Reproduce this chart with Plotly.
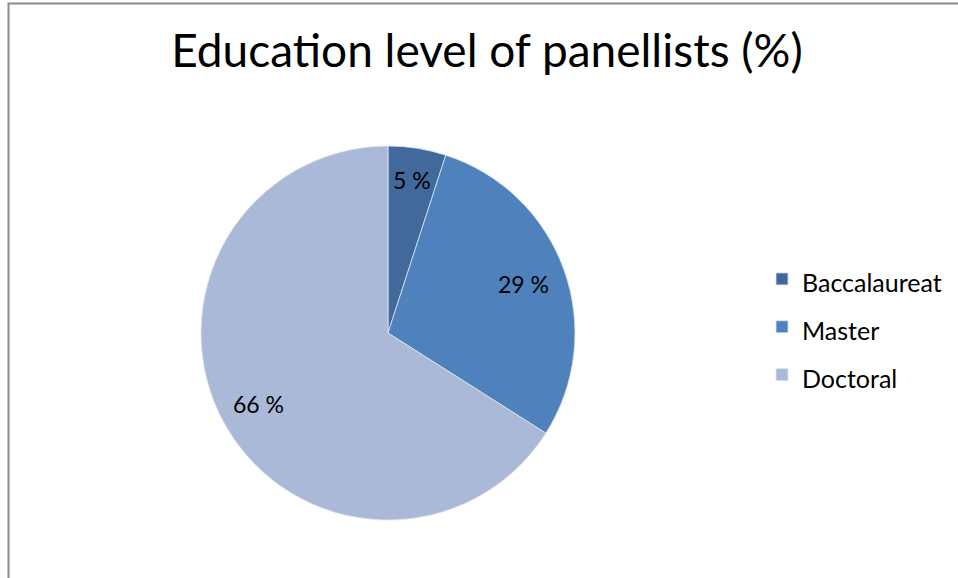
import math
import plotly.graph_objects as go

# Education level of panel members, in percent
levels = ["Baccalaureat", "Master", "Doctoral"]
shares = [5, 29, 66]
slice_colors = ["#41699C", "#4F81BD", "#AAB9D8"]

W, H = 958, 578
FONT = "Lato, 'Open Sans', sans-serif"

# pie geometry in pixels
CX, CY, R = 388, 333, 187
# radial placement of each value label, as a fraction of the radius
label_radius = [0.83, 0.77, 0.79]

fig = go.Figure(
    go.Pie(
        labels=[f'<span style="font-size:25px">{name}</span>' for name in levels],
        values=shares,
        sort=False,
        direction="clockwise",
        rotation=0,
        marker=dict(colors=slice_colors, line=dict(color="#DCE4F0", width=0.8)),
        textinfo="none",
        domain=dict(x=[(CX - R) / W, (CX + R) / W], y=[1 - (CY + R) / H, 1 - (CY - R) / H]),
        hovertemplate="%{label}: %{value} %<extra></extra>",
    )
)

# value labels placed at each slice's mid angle (clockwise from 12 o'clock)
annotations = []
total = sum(shares)
start = 0.0
for value, frac in zip(shares, label_radius):
    mid = (start + value / 2) / total * 2 * math.pi
    start += value
    px = CX + frac * R * math.sin(mid)
    py = CY - frac * R * math.cos(mid)
    annotations.append(
        dict(
            text=f"{value} %",
            x=px / W,
            y=1 - py / H,
            xref="paper",
            yref="paper",
            showarrow=False,
            xanchor="center",
            yanchor="middle",
            font=dict(family=FONT, size=23, color="#000000"),
        )
    )

fig.update_layout(
    width=W,
    height=H,
    margin=dict(l=0, r=0, t=0, b=0),
    paper_bgcolor="#FFFFFF",
    plot_bgcolor="#FFFFFF",
    font=dict(family=FONT, color="#000000"),
    title=dict(
        text="Education level of panellists (%)",
        x=487 / W,
        xanchor="center",
        y=1 - 51 / H,
        yanchor="middle",
        font=dict(family=FONT, size=46, color="#000000"),
    ),
    legend=dict(
        x=762 / W,
        xanchor="left",
        y=1 - 327 / H,
        yanchor="middle",
        font=dict(family=FONT, size=34.5, color="#000000"),
        itemwidth=30,
        bgcolor="rgba(0,0,0,0)",
    ),
    annotations=annotations,
    shapes=[
        dict(
            type="rect",
            xref="paper",
            yref="paper",
            x0=8.5 / W,
            x1=1.05,
            y0=-0.05,
            y1=1 - 3.5 / H,
            line=dict(color="#8C8C8C", width=2),
            fillcolor="rgba(0,0,0,0)",
        )
    ],
)

fig.write_html("out.html")
